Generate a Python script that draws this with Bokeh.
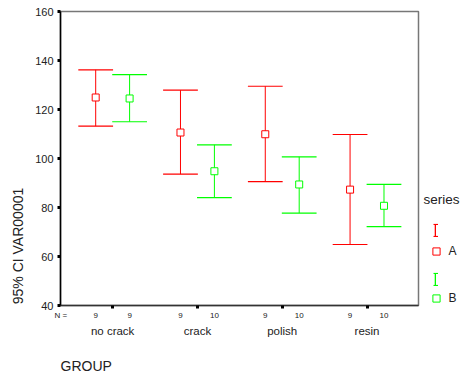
import math
from bokeh.plotting import figure
from bokeh.layouts import row, column
from bokeh.models import Range1d, LinearAxis, FixedTicker, Legend, LegendItem, Label
from bokeh.embed import file_html
from bokeh.resources import INLINE

# ---- data ----
groups = ["no crack", "crack", "polish", "resin"]
n_a = [9, 9, 9, 9]
n_b = [9, 10, 10, 10]
mean_a = [124.9, 110.6, 109.9, 87.3]
low_a = [113.2, 93.6, 90.6, 64.9]
high_a = [136.2, 127.9, 129.5, 109.8]
mean_b = [124.5, 94.8, 89.4, 80.7]
low_b = [115.0, 84.0, 77.7, 72.2]
high_b = [134.2, 105.6, 100.7, 89.4]
y_ticks = [40, 60, 80, 100, 120, 140, 160]
series_names = ["A", "B"]

RED = "#ff0000"
GREEN = "#00ff00"
DODGE = 0.2
CAP = 0.205
FONT = "Liberation Sans"
TXT = "#222222"
H_TOP = 350

def bare(w, h):
    f = figure(width=w, height=h, output_backend="svg", toolbar_location=None,
               x_axis_type=None, y_axis_type=None, min_border=0, title=None)
    f.outline_line_color = None
    f.grid.visible = False
    return f

# ---- main plot ----
p = figure(width=388, height=H_TOP, output_backend="svg", toolbar_location=None,
           x_range=Range1d(-0.615, 3.607), y_range=Range1d(40, 160),
           min_border_left=28, min_border_right=2, min_border_top=11, min_border_bottom=45,
           x_axis_type=None, y_axis_type=None, title=None)
p.outline_line_color = "#777777"
p.outline_line_width = 1.5

yax = LinearAxis(ticker=FixedTicker(ticks=y_ticks),
                 axis_line_color="black", axis_line_width=1.5,
                 major_tick_out=3, major_tick_in=0, major_tick_line_width=3,
                 major_tick_line_color="black", minor_tick_line_color=None,
                 major_label_standoff=4, major_label_text_font_size="11px",
                 major_label_text_color=TXT, major_label_text_font=FONT)
p.add_layout(yax, "left")

n_ticks = [-0.61]
n_over = {-0.61: "N ="}
for i in range(len(groups)):
    ta = i - DODGE
    tb = i + DODGE
    n_ticks += [ta, tb]
    n_over[ta] = str(n_a[i])
    n_over[tb] = str(n_b[i])

nax = LinearAxis(ticker=FixedTicker(ticks=n_ticks, minor_ticks=list(range(len(groups)))),
                 major_label_overrides=n_over,
                 axis_line_color="#333333", axis_line_width=1.5,
                 major_tick_line_color=None, major_tick_out=0, major_tick_in=0,
                 minor_tick_line_color="black", minor_tick_out=3, minor_tick_in=0,
                 minor_tick_line_width=3,
                 major_label_standoff=2, major_label_text_font_size="8px",
                 major_label_text_color=TXT, major_label_text_font=FONT)
p.add_layout(nax, "below")

cax = LinearAxis(ticker=FixedTicker(ticks=list(range(len(groups)))),
                 major_label_overrides={i: g for i, g in enumerate(groups)},
                 axis_line_color=None, major_tick_line_color=None, minor_tick_line_color=None,
                 major_tick_out=0, major_tick_in=0, major_label_standoff=2,
                 major_label_text_font_size="11.5px", major_label_text_color=TXT,
                 major_label_text_font=FONT)
p.add_layout(cax, "below")

xa = [i - DODGE for i in range(len(groups))]
xb = [i + DODGE for i in range(len(groups))]

def draw(fig, series_x, low, high, mean, color, visible=True):
    fig.segment(x0=series_x, y0=low, x1=series_x, y1=high, line_color=color,
                line_width=1, visible=visible)
    caps = fig.segment(x0=[x - CAP for x in series_x] * 2, x1=[x + CAP for x in series_x] * 2,
                       y0=high + low, y1=high + low, line_color=color, line_width=1.2,
                       visible=visible)
    pts = fig.scatter(series_x, mean, marker="square", size=7, line_color=color,
                      fill_color="white", line_width=1, visible=visible)
    bar = fig.vbar(x=series_x, bottom=low, top=high, width=0.01, fill_color=color,
                   line_color=None, visible=False)
    return caps, pts, bar

draw(p, xa, low_a, high_a, mean_a, RED)
draw(p, xb, low_b, high_b, mean_b, GREEN)

# ---- legend panel (right); its frame is aligned with the main frame (11..305) ----
lfig = bare(40, H_TOP)
capA, ptsA, barA = draw(lfig, xa, low_a, high_a, mean_a, RED, visible=False)
capB, ptsB, barB = draw(lfig, xb, low_b, high_b, mean_b, GREEN, visible=False)

common = dict(padding=0, margin=0, border_line_color=None, background_fill_alpha=0,
              label_text_font=FONT, label_text_color=TXT)
blank = dict(label_height=1, label_width=0, label_standoff=0, label_text_font_size="1px")

leg_stem = Legend(items=[LegendItem(label="", renderers=[barA]),
                         LegendItem(label="", renderers=[barB])],
                  location=(14, 19), glyph_width=2, glyph_height=15, spacing=34,
                  **blank, **common)
leg_capA = Legend(items=[LegendItem(label="", renderers=[capA]),
                         LegendItem(label="", renderers=[capA])],
                  location=(12.5, 68.5), glyph_width=5, glyph_height=2, spacing=10,
                  **blank, **common)
leg_capB = Legend(items=[LegendItem(label="", renderers=[capB]),
                         LegendItem(label="", renderers=[capB])],
                  location=(12.5, 19.5), glyph_width=5, glyph_height=2, spacing=10,
                  **blank, **common)
leg_sq = Legend(items=[LegendItem(label=series_names[0], renderers=[ptsA]),
                       LegendItem(label=series_names[1], renderers=[ptsB])],
                location=(6.5, -2), glyph_width=18, glyph_height=18, spacing=29,
                label_height=10, label_standoff=4, label_text_font_size="12px", **common)
for lg in (leg_stem, leg_capA, leg_capB, leg_sq):
    lfig.add_layout(lg)
lfig.add_layout(Label(x=3, y=106, x_units="screen", y_units="screen", text="series",
                      text_font=FONT, text_font_size="13.5px", text_color=TXT,
                      text_baseline="middle", text_align="left"))

# ---- y title panel (left) ----
yfig = bare(32, H_TOP)
yfig.add_layout(Label(x=17.5, y=59.5, x_units="screen", y_units="screen",
                      text="95% CI VAR00001", angle=math.pi / 2,
                      text_font=FONT, text_font_size="14px", text_color=TXT,
                      text_baseline="middle", text_align="center"))

# ---- x title panel (bottom) ----
gfig = bare(460, 374 - H_TOP)
gfig.add_layout(Label(x=60, y=16.5, x_units="screen", y_units="screen", text="GROUP",
                      text_font=FONT, text_font_size="14px", text_color=TXT,
                      text_baseline="top", text_align="left"))

layout = column(row(yfig, p, lfig, spacing=0), gfig, spacing=0)
open("out.html", "w").write(file_html(layout, INLINE))
